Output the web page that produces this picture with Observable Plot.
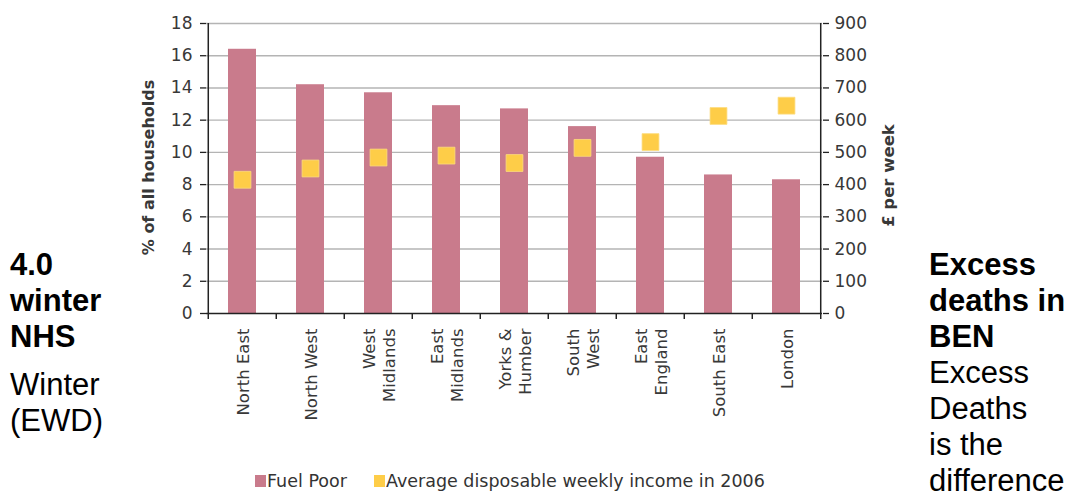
<!DOCTYPE html>
<html><head><meta charset="utf-8">
<script src="https://cdn.jsdelivr.net/npm/d3@7"></script>
<script src="https://cdn.jsdelivr.net/npm/@observablehq/plot@0.6"></script>
<style>
html,body{margin:0;padding:0;background:#fff;}
#page{position:relative;width:1068px;height:492px;overflow:hidden;background:#fff;}
#chart{position:absolute;left:130px;top:0;}
.side{position:absolute;top:247px;font-family:"Liberation Sans",Arial,sans-serif;font-size:31px;line-height:36px;color:#000;white-space:nowrap;}
#legend{position:absolute;top:472px;left:255px;font-family:"DejaVu Sans",sans-serif;font-size:17.5px;line-height:18px;color:#333;display:flex;align-items:center;white-space:nowrap;}
#legend .item{display:flex;align-items:center;margin-right:27px;}
#legend .sw{display:inline-block;width:11px;height:12px;margin-right:1px;}
</style></head>
<body><div id="page">
<div class="side" style="left:10px"><b>4.0<br>winter<br>NHS</b><div style="margin-top:12px">Winter<br>(EWD)</div></div>
<div class="side" style="left:929px"><b>Excess<br>deaths in<br>BEN</b><br>Excess<br>Deaths<br>is the<br>difference</div>
<div id="chart"></div>
<div id="legend"></div>
</div>
<script>
const regions = ["North East","North West","West Midlands","East Midlands","Yorks & Humber","South West","East England","South East","London"];
const regionLabels = ["North East","North West","West\nMidlands","East\nMidlands","Yorks &\nHumber","South\nWest","East\nEngland","South East","London"];
const fuelPoor = [16.4,14.2,13.7,12.9,12.7,11.6,9.7,8.6,8.3];
const income = [415,450,484,490,467,514,532,613,645];
const leftTicks = [0,2,4,6,8,10,12,14,16,18];
const rightTicks = [0,100,200,300,400,500,600,700,800,900];
const leftTitle = "% of all households";
const rightTitle = "£ per week";
const legendLabels = ["Fuel Poor","Average disposable weekly income in 2006"];
const colors = ["#c97b8c","#fecd48"];

const W = 780, H = 440, mL = 76, mR = 88, mT = 23, mB = 127;
const factor = rightTicks[rightTicks.length-1] / leftTicks[leftTicks.length-1];
const step = (W - mL - mR) / regions.length;
const frameH = H - mT - mB;
const rows = regions.map((r,i)=>({region:r,label:regionLabels[i],fuel:fuelPoor[i],income:income[i]}));
const ink = "#222";
const txt = "#383838";

const chart = Plot.plot({
  width: W, height: H, marginLeft: mL, marginRight: mR, marginTop: mT, marginBottom: mB,
  style: {fontFamily: "'DejaVu Sans', sans-serif", fontSize: "17px", color: txt, background: "transparent"},
  x: {type: "band", domain: regions, paddingInner: 0.59, paddingOuter: 0.295, axis: null},
  y: {domain: [0, 18]},
  marks: [
    Plot.ruleY(leftTicks.filter(t=>t>0), {stroke: "#b4b4b4", strokeWidth: 1.4}),
    Plot.barY(rows, {x: "region", y: "fuel", fill: colors[0]}),
    Plot.dot(rows, {x: "region", y: d => d.income / factor, symbol: "square", r: 9.5, fill: colors[1], stroke: "#fddc7e", strokeWidth: 0.8}),
    Plot.ruleY([0], {stroke: ink, strokeWidth: 1.5}),
    Plot.ruleX([regions[0]], {x: d=>d, dx: -step/2, stroke: ink, strokeWidth: 1.5}),
    Plot.ruleX([regions[regions.length-1]], {x: d=>d, dx: step/2, stroke: ink, strokeWidth: 1.5}),
    Plot.ruleX(regions, {x: d=>d, dx: -step/2, insetTop: frameH - 6, dy: 6, stroke: ink, strokeWidth: 1.5}),
    Plot.ruleX([regions[regions.length-1]], {x: d=>d, dx: step/2, insetTop: frameH - 6, dy: 6, stroke: ink, strokeWidth: 1.5}),
    Plot.axisY({anchor: "left", ticks: leftTicks, tickSize: 6, tickPadding: 8, stroke: ink, strokeWidth: 1.3, fill: txt, fontSize: 17, label: null}),
    Plot.axisY({anchor: "right", ticks: rightTicks.map(v => v / factor), tickFormat: d => String(Math.round(d * factor)), tickSize: 6, tickPadding: 6, stroke: ink, strokeWidth: 1.3, fill: txt, fontSize: 17, label: null}),
    Plot.text(rows, {x: "region", text: "label", frameAnchor: "bottom", dy: 15, rotate: -90, textAnchor: "end", lineAnchor: "middle", lineHeight: 1.21, fontSize: 16.5, fill: txt}),
    Plot.text([leftTitle], {frameAnchor: "left", dx: -58, dy: -1, rotate: -90, textAnchor: "middle", lineAnchor: "middle", fontWeight: "bold", fontSize: 16, fill: txt}),
    Plot.text([rightTitle], {frameAnchor: "right", dx: 66, dy: 7, rotate: -90, textAnchor: "middle", lineAnchor: "middle", fontWeight: "bold", fontSize: 16.5, fill: txt})
  ]
});
document.getElementById("chart").appendChild(chart);

const legend = document.getElementById("legend");
legendLabels.forEach((lab, i) => {
  const item = document.createElement("span");
  item.className = "item";
  const sw = document.createElement("span");
  sw.className = "sw";
  sw.style.background = colors[i];
  item.appendChild(sw);
  item.appendChild(document.createTextNode(lab));
  legend.appendChild(item);
});
</script>
</body></html>
